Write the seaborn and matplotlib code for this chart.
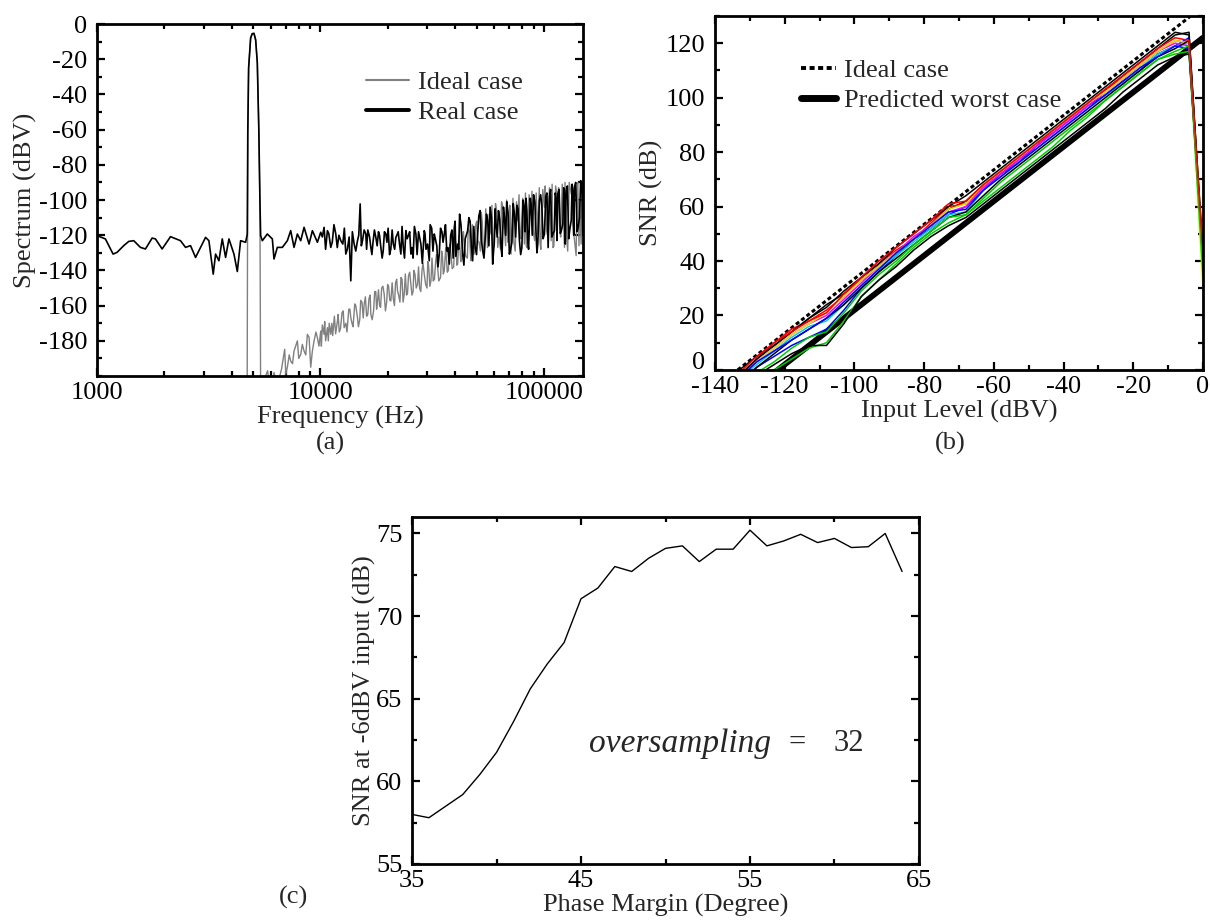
import matplotlib
matplotlib.use("Agg")
from matplotlib import pyplot as plt
from matplotlib.ticker import MultipleLocator, LogLocator, NullFormatter
import matplotlib.transforms as mtransforms
import numpy as np
import pandas as pd
import seaborn as sns

# ---------------- (a) output spectrum ----------------
real_freq = [1000, 1090, 1180, 1230, 1317, 1387, 1460, 1564, 1647, 1765, 1826, 1956, 2133, 2364,
             2490, 2621, 2761, 2907, 3061, 3168, 3313, 3394, 3513, 3636, 3763, 3895, 4102, 4246,
             4393, 4626, 4706, 4730, 4771, 4871, 4950, 5041, 5130, 5218, 5300, 5360, 5401, 5495,
             5785, 6093, 6198, 6415, 6754, 7112, 7362, 7620, 7886, 8163, 8450, 8896, 9208, 9694,
             10035, 10385, 10750, 11127, 11718, 12340, 12993, 13680, 14159, 14655, 15065, 15430,
             15969, 16300, 16817, 17200, 17707, 18200, 18648, 19100, 19634, 20100, 20673, 21200,
             21766, 22300, 22921, 23500, 24135, 24800, 25420, 26000, 26760, 27500, 28180, 29170,
             29700, 30720, 31500, 32340, 33200, 34050, 35000, 35860, 36800, 37760, 38800, 39760,
             40400, 41150, 42000, 43340, 44500, 45630, 46800, 48040, 49300, 50580, 51900, 53270,
             54700, 56090, 57500, 59060, 60000, 61130, 62700, 64390, 65500, 66640, 68300, 70150,
             72000, 73900, 75800, 77810, 79800, 81910, 83300, 84790, 86200, 87760, 90000, 92390,
             94000, 95630, 98000, 100700, 103300, 106000, 108700, 111600, 113600, 115600, 118600,
             121700, 123800, 125900, 129300, 132700, 135000, 137300, 141000, 144600, 148000, 151100]
real_db = [-120.2, -122.1, -130.7, -129.7, -125.9, -123.5, -123.1, -126.9, -127.8, -121.6, -122.1,
           -127.8, -120.8, -123.1, -126.9, -125.9, -132.6, -126.9, -121.2, -123.1, -142.1, -130.7,
           -134.5, -122.1, -132.6, -122.1, -130.7, -140.6, -123.1, -124.0, -119.3, -62, -25, -8,
           -5.5, -5.3, -9, -22, -60, -100, -120.2, -123.1, -119.3, -122.1, -133.5, -126.9, -126.9,
           -123.1, -117.4, -126.9, -119.3, -123.1, -115.5, -125.0, -117.4, -124.0, -118.3, -115.5,
           -117.4, -126.9, -119.3, -123.1, -130.7, -145.9, -125.0, -123.1, -102.2, -123.1, -119.3,
           -117, -126.9, -124, -121.2, -118, -126.9, -129, -119.3, -116, -127.8, -125, -121.2,
           -118, -130.7, -127, -117.4, -120, -130.7, -133, -119.3, -118, -125.0, -117.4, -128,
           -134.5, -116, -119.3, -126, -130.7, -118, -119.3, -129, -136.4, -117, -115.5, -132,
           -125.0, -108, -130.7, -122, -117.4, -112, -134.5, -127, -119.3, -106, -128.8, -121,
           -111.7, -104, -136.4, -125, -113.6, -106, -126.9, -118, -109.8, -101, -130.7, -124,
           -107.9, -103, -123.1, -127, -104.1, -99, -123.1, -115, -102.2, -97, -119.3, -125,
           -100.3, -103, -119.3, -96, -98.4, -121, -117.4, -99, -96.5, -119, -113.6, -97, -94.6,
           -122, -111.7, -95, -92.7, -118, -109.8, -90, -92.7]
# extra points of the dense noise floor above 10 kHz
real_freq_hf = [10200, 10550, 10900, 11300, 11500, 11900, 12100, 12600, 12800, 13200, 13450,
                13900, 14400, 14850, 15250, 15700, 16100, 16600, 17000, 17450, 17950, 18400,
                18900, 19350, 19850, 20400, 20950, 21500, 22000, 22600, 23200, 23800, 24450,
                25100, 25700, 26350, 27100, 27800, 28600, 29400, 30200, 31000, 31900, 32700,
                33600, 34500, 35400, 36300, 37200, 38300, 39300, 40100, 41600, 42600, 43900,
                45000, 46200, 47400, 48600, 50000, 51200, 52600, 54000, 55400, 56800, 58300,
                59600, 60600, 61900, 63500, 65000, 66000, 67500, 69200, 71000, 73000, 74800,
                76700, 78800, 80800, 82600, 84000, 85500, 87000, 88800, 91200, 93200, 96800,
                99300, 102000, 104600, 107300, 110100, 112600, 114600, 117100, 120100, 122800,
                124800, 127600, 131000, 134000, 136200, 139000, 142800, 146300, 149500]
real_db_hf = [-121, -128, -119, -124, -114, -127, -120, -125, -116, -128, -121, -118, -129, -120,
              -126, -117, -128, -121, -131, -117, -126, -120, -133, -118, -124, -131, -117, -128,
              -120, -125, -115, -133, -122, -118, -127, -115, -131, -121, -136, -119, -125, -114,
              -129, -122, -138, -116, -124, -114, -127, -120, -133, -112, -128, -114, -137, -120,
              -110, -126, -115, -131, -109, -123, -133, -108, -126, -110, -129, -105, -121, -111,
              -132, -104, -120, -107, -128, -102, -121, -105, -131, -100, -118, -106, -128, -99,
              -120, -101, -130, -97, -122, -98, -127, -94, -119, -96, -123, -94, -117, -93, -125,
              -92, -116, -91, -120, -90, -115, -89, -119]

ideal_freq = [4700, 4730, 4771, 4871, 4950, 5041, 5130, 5218, 5300, 5360, 5400, 5500, 5800, 6000,
              6200, 6400, 6700, 6919, 7000, 7112, 7250, 7362, 7500, 7620, 7750, 7886, 8000, 8163,
              8300, 8450, 8600, 8744, 8900, 9050, 9200, 9368, 9550, 9694, 9850, 10035, 10200,
              10385, 10550, 10750, 10950, 11127, 11350, 11550, 11920, 12150, 12500, 12770, 13000,
              13400, 13680, 14000, 14400, 14655, 15000, 15350, 15700, 16100, 16500, 16817, 17300,
              17700, 18010, 18400, 18800, 19300, 19800, 20200, 20673, 21200, 21700, 22140, 22700,
              23200, 23730, 24300, 24800, 25420, 26000, 26500, 27230, 27800, 28500, 29170, 30000,
              30500, 31250, 32000, 32800, 33480, 34500, 35200, 35860, 37000, 37800, 38410, 39500,
              40500, 41150, 42500, 43300, 44080, 45500, 46500, 47230, 48500, 49600, 50580, 52000,
              53000, 54200, 56000, 57000, 58050, 60000, 61500, 62200, 64000, 65500, 66640, 69000,
              70500, 71380, 74500, 75500, 76470, 79000, 80500, 81910, 84000, 86000, 87760, 91000,
              92500, 94000, 97000, 99000, 100700, 104000, 106000, 107900, 111000, 113000, 115600,
              119000, 121000, 123800, 128000, 130000, 132700, 136000, 139600, 141000, 144600,
              147000, 150000, 151100]
ideal_db = [-210, -62, -25, -8, -5.5, -5.3, -9, -22, -60, -100, -210, -205, -197, -210, -198,
            -206, -196, -184.8, -199, -195, -188, -191.5, -193, -185.8, -183, -180, -190, -187.7,
            -182, -185.8, -188, -176.3, -178, -195, -186, -180, -175, -178.2, -183, -174.4, -171,
            -176.3, -180, -172.5, -170, -176.3, -177, -166, -168.7, -175, -164, -172.5, -170,
            -162, -166.8, -172, -160, -166.8, -168, -158, -159.2, -166, -156, -164.9, -163, -152,
            -157.3, -160, -150, -153.5, -158, -149, -157.3, -156, -147, -151.6, -158, -145,
            -153.5, -154, -143, -147.8, -152, -142, -147.8, -150, -140, -142.1, -150, -137,
            -145.9, -146, -135, -138.3, -144, -132, -140.2, -141, -128, -130.7, -138, -125,
            -136.4, -135, -121, -126.9, -133, -118, -134.5, -131, -114, -123.1, -129, -112,
            -130.7, -127, -108, -119.3, -126, -106, -126.9, -128, -104, -115.5, -124, -103,
            -130.7, -129, -101, -111.7, -122, -99, -125, -127, -97, -107.9, -123, -96, -119.3,
            -128, -94, -104.1, -120, -93, -123.1, -126, -92, -100.3, -121, -91, -126.9, -129,
            -90, -96.5, -118, -131.6, -93, -100.3, -125, -89, -96.5]
ideal_freq_hf = [10100, 10450, 10850, 11250, 11700, 12000, 12300, 12650, 13150, 13550, 13850,
                 14250, 14800, 15150, 15550, 15900, 16300, 16700, 17050, 17500, 17850, 18200,
                 18600, 19050, 19550, 20000, 20450, 20950, 21450, 21950, 22400, 22950, 23450,
                 24000, 24550, 25100, 25700, 26200, 26850, 27500, 28150, 28800, 29600, 30250,
                 30900, 31600, 32400, 33100, 33900, 34900, 35500, 36400, 37400, 38000, 38900,
                 40000, 40800, 41800, 42900, 43700, 44800, 45900, 47000, 47900, 49000, 50100,
                 51300, 52500, 53600, 55000, 56500, 58600, 59300, 60800, 63000, 64700, 67500,
                 68200, 70000, 72800, 73500, 77500, 78200, 82800, 83500, 88500, 89800, 95500,
                 96200, 101500, 102800, 109000, 110000, 116500, 117800, 124500, 126500, 133500,
                 134800, 142000, 143800, 148800, 150500]
ideal_db_hf = [-183, -169, -180, -170, -176, -165, -173, -163, -175, -162, -170, -159, -172,
               -157, -167, -155, -165, -154, -168, -152, -162, -151, -161, -149, -163, -148,
               -157, -147, -160, -145, -154, -144, -158, -142, -153, -141, -154, -140, -150,
               -138, -152, -136, -148, -135, -149, -133, -145, -131, -146, -129, -142, -127,
               -140, -125, -139, -122, -137, -120, -134, -118, -132, -116, -131, -114, -129,
               -112, -124, -107, -127, -105, -123, -103, -125, -102, -121, -101, -126, -100,
               -119, -99, -124, -97, -120, -96, -126, -95, -118, -93, -124, -92, -117, -91, -127,
               -93, -115, -90, -121, -92, -113, -90, -126, -91, -112]

# ---------------- (b) SNR vs input level ----------------
input_level = [-133, -128, -123, -118, -113, -108, -103, -98, -93, -88, -83, -78, -73, -68,
               -63, -58, -53, -48, -43, -38, -33, -28, -23, -18, -13, -8, -4, 0]
run01 = [0, 5, 9, 14, 19, 24, 28, 33, 38, 43, 48, 53, 59, 62, 68, 73, 78, 83, 88, 93, 98, 103, 108, 113, 118, 123, 124, 40]
run02 = [-2, 4, 10, 15, 18, 22, 27, 34, 39, 44, 48, 54, 60, 61, 67, 72, 77, 82, 88, 93, 98, 103, 107, 112, 117, 121, 120, 38]
run03 = [-4, 1, 5, 9, 12, 15, 22, 30, 36, 42, 48, 52, 57, 60, 66, 72, 76, 82, 87, 92, 97, 101, 106, 110, 116, 119, 122, 40]
run04 = [-8, -4, 0, 4, 8, 10, 18, 27, 33, 39, 45, 50, 54, 57, 62, 67, 72, 77, 82, 88, 93, 99, 104, 109, 114, 116, 117, 36]
run05 = [-3, 2, 7, 12, 16, 18, 24, 31, 37, 42, 47, 52, 57, 58, 66, 71, 76, 81, 86, 91, 96, 101, 105, 111, 116, 119, 120, 34]
run06 = [-2, 3, 8, 13, 17, 20, 26, 32, 38, 43, 49, 53, 58, 60, 67, 72, 77, 82, 87, 92, 97, 102, 107, 112, 117, 120, 119, 37]
run07 = [-3, 3, 8, 13, 17, 21, 27, 33, 38, 43, 48, 53, 59, 61, 68, 73, 78, 83, 88, 93, 98, 102, 107, 112, 117, 121, 120, 30]
run08 = [-7, -2, 2, 6, 9, 9, 17, 27, 33, 38, 44, 49, 53, 56, 61, 66, 71, 76, 81, 86, 91, 96, 102, 107, 112, 115, 116, 42]
run09 = [-2, 4, 9, 14, 19, 23, 29, 34, 39, 45, 50, 55, 60, 64, 69, 74, 79, 84, 89, 94, 99, 104, 109, 114, 119, 124, 123, 43]
run10 = [-5, 1, 6, 11, 15, 19, 24, 30, 36, 41, 46, 51, 56, 58, 64, 70, 75, 80, 85, 90, 95, 100, 105, 110, 115, 118, 121, 39]
run11 = [-3, 3, 7, 11, 15, 19, 25, 31, 37, 43, 48, 53, 58, 59, 66, 71, 76, 81, 86, 91, 96, 101, 106, 111, 115, 119, 118, 41]
run12 = [-6, -1, 3, 8, 12, 14, 21, 29, 35, 40, 46, 51, 56, 57, 63, 69, 74, 79, 84, 89, 94, 99, 104, 109, 114, 117, 119, 35]
run13 = [-1, 5, 10, 14, 18, 21, 28, 34, 40, 45, 50, 55, 61, 62, 68, 73, 78, 83, 88, 93, 98, 103, 108, 113, 118, 122, 121, 44]
runs = [run01, run02, run03, run04, run05, run06, run07, run08, run09, run10, run11, run12, run13]
run_colors = ["black", "red", "blue", "#00cc00", "#00d0d8", "magenta", "#e6e600", "black",
              "black", "black", "blue", "#00cc00", "red"]

ideal_level = [-135, 0]
ideal_snr = [-1.5, 133.5]
worst_level = [-124, 0]
worst_snr = [-2, 122]

# ---------------- (c) SNR vs phase margin ----------------
phase_margin = [35, 36, 37, 38, 39, 40, 41, 42, 43, 44, 45, 46, 47, 48, 49, 50, 51, 52, 53, 54,
                55, 56, 57, 58, 59, 60, 61, 62, 63, 64]
snr_pm = [58.0, 57.8, 58.5, 59.2, 60.4, 61.75, 63.6, 65.6, 67.1, 68.4, 71.05, 71.7, 73.0, 72.7,
          73.5, 74.1, 74.25, 73.3, 74.05, 74.05, 75.2, 74.25, 74.55, 74.95, 74.45, 74.7, 74.15,
          74.2, 75.0, 72.7]

sns.set_style("ticks")
plt.rcParams["font.family"] = ["Liberation Serif", "DejaVu Serif"]
plt.rcParams["axes.unicode_minus"] = False
plt.rcParams["axes.linewidth"] = 2
plt.rcParams["font.size"] = 19

fs = 19
fig = plt.figure(figsize=(12.1, 9.21), dpi=100)
ax_a = fig.add_axes([0.0802, 0.5917, 0.4017, 0.3822])
ax_b = fig.add_axes([0.5909, 0.5983, 0.4033, 0.3844])
ax_c = fig.add_axes([0.3405, 0.0619, 0.4190, 0.3768])


def style_ticks(ax):
    ax.tick_params(which="both", direction="in", top=True, right=True, labelsize=fs,
                   color="black", labelcolor="black")
    ax.tick_params(which="major", length=6, width=1.6)
    ax.tick_params(which="minor", length=3.5, width=1.6)
    ax.tick_params(axis="y", which="major", pad=7)
    ax.tick_params(axis="x", which="major", pad=4)
    for s in ax.spines.values():
        s.set_visible(True)
        s.set_color("black")
        s.set_linewidth(2)


# (a)
spec_ideal = pd.DataFrame({"f": ideal_freq + ideal_freq_hf, "db": ideal_db + ideal_db_hf})
spec_real = pd.DataFrame({"f": real_freq + real_freq_hf, "db": real_db + real_db_hf})
sns.lineplot(data=spec_ideal, x="f", y="db", ax=ax_a, color="#808080", lw=1.0, estimator=None,
             label="Ideal case")
sns.lineplot(data=spec_real, x="f", y="db", ax=ax_a, color="black", lw=1.2, estimator=None,
             label="Real case")
ax_a.set_xscale("log")
ax_a.set_xlim(1000, 150000)
ax_a.set_ylim(-200, 0)
ax_a.set_xticks([1000, 10000, 100000])
ax_a.set_xticklabels(["1000", "10000", "100000"])
ax_a.xaxis.set_minor_locator(LogLocator(base=10, subs=np.arange(2, 10)))
ax_a.xaxis.set_minor_formatter(NullFormatter())
ax_a.set_yticks(range(-180, 1, 20))
ax_a.yaxis.set_minor_locator(MultipleLocator(10))
ax_a.set_xlabel("Frequency (Hz)", fontsize=fs, labelpad=2)
ax_a.set_ylabel("Spectrum (dBV)", fontsize=fs, labelpad=1)
style_ticks(ax_a)
leg_a = ax_a.legend(loc="upper left", bbox_to_anchor=(0.527, 0.905), frameon=False, fontsize=fs,
                    handlelength=1.6, handletextpad=0.35, labelspacing=0.25, borderpad=0)
leg_a.get_lines()[0].set_linewidth(1.5)
leg_a.get_lines()[1].set_linewidth(2.8)

# (b)
sns.lineplot(x=ideal_level, y=ideal_snr, ax=ax_b, color="black", lw=2.2,
             linestyle=(0, (1.3, 0.9)), estimator=None, label="Ideal case")
sns.lineplot(x=worst_level, y=worst_snr, ax=ax_b, color="black", lw=4.2,
             estimator=None, label="Predicted worst case")
run_df = pd.DataFrame({
    "level": input_level * len(runs),
    "snr": [v for r in runs for v in r],
    "run": [i for i in range(len(runs)) for _ in input_level],
})
sns.lineplot(data=run_df, x="level", y="snr", hue="run", units="run", estimator=None,
             palette=run_colors, lw=1.1, legend=False, ax=ax_b)
ax_b.set_xlim(-140, 0)
ax_b.set_ylim(0, 130)
ax_b.set_xticks(range(-140, 1, 20))
ax_b.xaxis.set_minor_locator(MultipleLocator(10))
ax_b.set_yticks(range(0, 121, 20))
ax_b.yaxis.set_minor_locator(MultipleLocator(10))
ax_b.set_xlabel("Input Level (dBV)", fontsize=fs, labelpad=2)
ax_b.set_ylabel("SNR (dB)", fontsize=fs, labelpad=2)
style_ticks(ax_b)
# lift the "0" label a little so it clears the "-140" below it
zero_lbl = ax_b.yaxis.get_major_ticks()[0].label1
zero_lbl.set_transform(zero_lbl.get_transform() +
                       mtransforms.ScaledTranslation(0, 7 / 72, fig.dpi_scale_trans))
leg_b = ax_b.legend(loc="upper left", bbox_to_anchor=(0.15, 0.917), frameon=False, fontsize=fs,
                    handlelength=1.3, handletextpad=0.3, labelspacing=0.25, borderpad=0)
leg_b.get_lines()[0].set_linewidth(2.8)
leg_b.get_lines()[1].set_linewidth(5)
leg_b.get_lines()[1].set_solid_capstyle("round")

# (c)
sns.lineplot(x=phase_margin, y=snr_pm, ax=ax_c, color="black", lw=1.0, estimator=None)
ax_c.set_xlim(35, 65)
ax_c.set_ylim(55, 76)
ax_c.set_xticks([35, 45, 55, 65])
ax_c.xaxis.set_minor_locator(MultipleLocator(5))
ax_c.set_yticks([55, 60, 65, 70, 75])
ax_c.yaxis.set_minor_locator(MultipleLocator(2.5))
ax_c.set_xlabel("Phase Margin (Degree)", fontsize=fs, labelpad=2)
ax_c.set_ylabel("SNR at -6dBV input (dB)", fontsize=fs, labelpad=0)
style_ticks(ax_c)
ax_c.text(45.47, 62.3, "oversampling", fontsize=24, fontstyle="italic", ha="left", va="center")
ax_c.text(57.25, 62.3, "=", fontsize=22, ha="left", va="center")
ax_c.text(59.97, 62.3, "32", fontsize=22, ha="left", va="center")

fig.text(330 / 1210, 1 - 443 / 921, "(a)", ha="center", va="center", fontsize=fs)
fig.text(950 / 1210, 1 - 443 / 921, "(b)", ha="center", va="center", fontsize=fs)
fig.text(294 / 1210, 1 - 897 / 921, "(c)", ha="center", va="center", fontsize=fs)

fig.savefig("out.png", dpi=100, facecolor="white")
